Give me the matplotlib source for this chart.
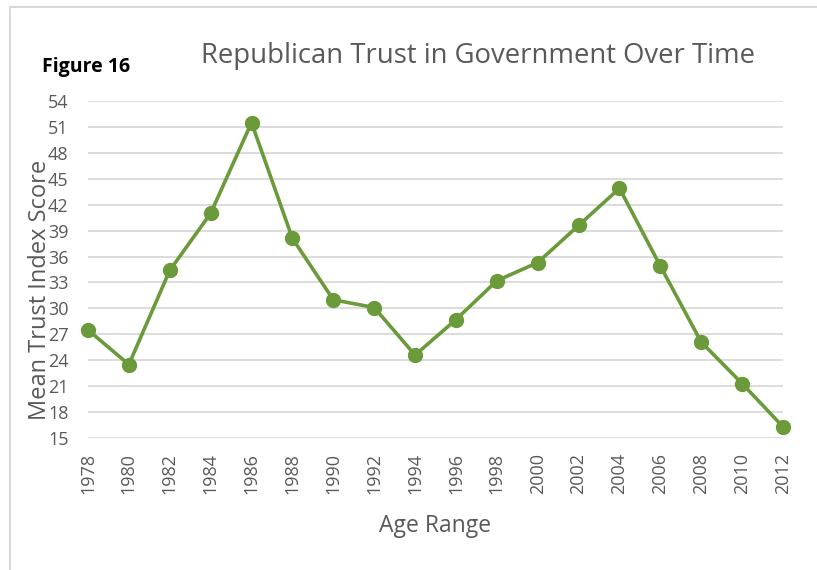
import matplotlib.pyplot as plt
from matplotlib.patches import Rectangle

years = [1978, 1980, 1982, 1984, 1986, 1988, 1990, 1992, 1994,
         1996, 1998, 2000, 2002, 2004, 2006, 2008, 2010, 2012]
trust = [27.5, 23.5, 34.4, 41.0, 51.5, 38.1, 31.0, 30.1, 24.6,
         28.7, 33.2, 35.3, 39.6, 43.9, 34.9, 26.1, 21.3, 16.3]
y_ticks = list(range(15, 55, 3))

green = '#6A9A3A'
grey_text = '#595959'
plt.rcParams['font.family'] = ['Open Sans', 'DejaVu Sans']

fig = plt.figure(figsize=(8.17, 5.70), dpi=100)
ax = fig.add_axes([88 / 817, 1 - 438 / 570, (783 - 88) / 817, (438 - 101) / 570])

ax.plot(years, trust, color=green, linewidth=2.6, marker='o', markersize=10,
        clip_on=False, zorder=3)

ax.set_xlim(years[0], years[-1])
ax.set_ylim(15, 54)
ax.set_yticks(y_ticks)
ax.set_xticks(years)
ax.set_xticklabels([str(y) for y in years], rotation=90)
ax.tick_params(axis='both', length=0, labelsize=13, colors=grey_text)
ax.tick_params(axis='x', pad=11)
ax.tick_params(axis='y', pad=14)
ax.grid(axis='y', color='#D9D9D9', linewidth=1.3)
ax.set_axisbelow(True)
for s in ax.spines.values():
    s.set_visible(False)

ax.set_xlabel('Age Range', fontsize=16.5, color=grey_text, labelpad=14)
fig.text(40 / 817, 1 - 290 / 570, 'Mean Trust Index Score', rotation=90,
         fontsize=17, color=grey_text, ha='center', va='center')

fig.text(478 / 817, 1 - 56 / 570, 'Republican Trust in Government Over Time',
         fontsize=19.8, color=grey_text, ha='center', va='center')
fig.text(42 / 817, 1 - 67 / 570, 'Figure 16', fontsize=14, fontweight='bold',
         color='black', ha='left', va='center')

# frame around the chart area
fig.patches.append(Rectangle((9.5 / 817, -0.05), 1.1, 1 - 6.5 / 570 + 0.05,
                             transform=fig.transFigure, fill=False,
                             edgecolor='#D9D9D9', linewidth=1.5))

fig.savefig('out.png', dpi=100)
